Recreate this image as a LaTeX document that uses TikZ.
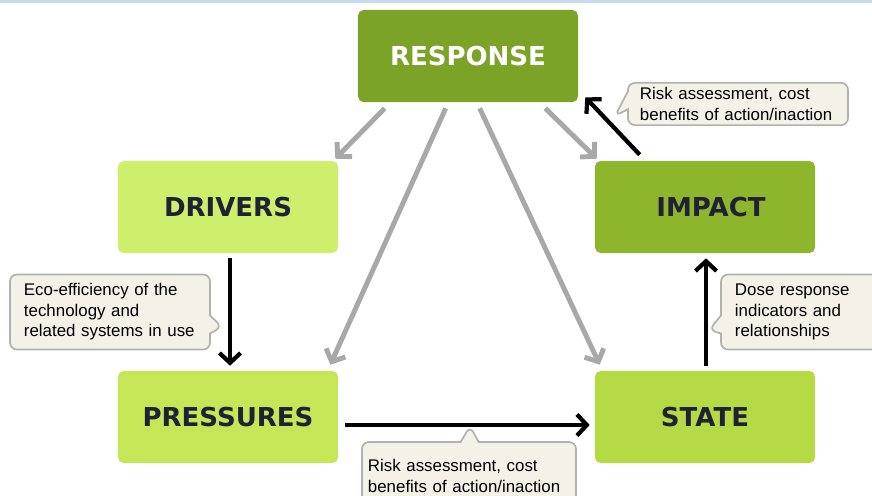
\documentclass[tikz,border=0pt]{standalone}
\usepackage{fontspec}
\setmainfont{Liberation Sans}
\newfontfamily\boxfont{DejaVu Sans}
\usetikzlibrary{shapes.callouts}
\usetikzlibrary{calc}
\usetikzlibrary{arrows.meta}

\definecolor{respgreen}{RGB}{123,163,40}
\definecolor{drvgreen}{RGB}{207,238,108}
\definecolor{impgreen}{RGB}{142,182,44}
\definecolor{presgreen}{RGB}{198,230,88}
\definecolor{stategreen}{RGB}{182,218,70}
\definecolor{navytext}{RGB}{30,34,52}
\definecolor{arrowgray}{RGB}{168,168,168}
\definecolor{notefill}{RGB}{244,242,232}
\definecolor{notegray}{RGB}{178,178,172}
\definecolor{topblue}{RGB}{196,220,238}

\begin{document}
\begin{tikzpicture}[x=0.025cm, y=-0.025cm, >={Straight Barb[length=7pt,width=15pt]}]
        \tikzstyle{every node}=[font=\fontsize{12}{14.6}\selectfont]
        \tikzstyle{stage}=[rectangle, rounded corners=4pt, minimum width=5.5cm, minimum height=2.3cm, text=navytext, font=\boxfont\bfseries\fontsize{18.5}{20}\selectfont]
        \tikzstyle{note}=[rectangle callout, rounded corners=5pt, draw=notegray, line width=1.2pt, fill=notefill, align=left, callout pointer width=0.45cm]
        \tikzstyle{grayarrow}=[->, draw=arrowgray, line width=3.5pt]
        \tikzstyle{blackarrow}=[->, draw=black, line width=3pt]
        \clip (0,0) rectangle (872,495);
        \fill[white] (0,0) rectangle (872,495);
        \fill[topblue] (0,0) rectangle (872,3);
        \node [stage, fill=respgreen, text=white] (resp) at (468,56) {RESPONSE};
        \node [stage, fill=drvgreen] (drv) at (228,207) {DRIVERS};
        \node [stage, fill=impgreen] (imp) at (705,207) {\hspace{0.3cm}IMPACT};
        \node [stage, fill=presgreen] (pres) at (228,417) {PRESSURES};
        \node [stage, fill=stategreen] (state) at (705,417) {STATE};
        \draw[grayarrow] ($(resp.south west)+(27,6)$) -- ($(drv.north east)+(-3,-2)$);
        \draw[grayarrow] ($(resp.south west)+(88,6)$) -- ($(pres.north east)+(-8,-6)$);
        \draw[grayarrow] ($(resp.south west)+(122,6)$) -- ($(state.north west)+(5,-6)$);
        \draw[grayarrow] ($(resp.south east)+(-33,6)$) -- ($(imp.north west)+(2,-2)$);
        \draw[blackarrow] ($(drv.south)+(2,5)$) -- ($(pres.north)+(2,-5)$);
        \draw[blackarrow] ($(pres.east)+(7,8)$) -- ($(state.west)+(-5,8)$);
        \draw[blackarrow] ($(state.north)+(1,-5)$) -- ($(imp.south)+(1,5)$);
        \draw[blackarrow] ($(imp.north west)+(45,-6)$) -- ($(resp.south east)+(7,-5)$);
        \coordinate (ecotip) at (222,327);
        \coordinate (topriskpt) at (615,116);
        \coordinate (dosetip) at (709,330);
        \coordinate (lowriskpt) at (470,426);
        \node [note, text width=4.3cm, inner xsep=0.35cm, minimum height=1.875cm, callout absolute pointer=(ecotip)] (eco) at (110,312) {Eco-efficiency of the\\technology and\\related systems in use};
        \node [note, text width=4.9cm, inner xsep=0.3cm, minimum height=1.05cm, callout absolute pointer=(topriskpt)] (toprisk) at (738,104) {Risk assessment, cost\\benefits of action/inaction};
        \node [note, text width=3.4cm, inner xsep=0.35cm, minimum height=1.875cm, callout absolute pointer=(dosetip)] (dose) at (803,312) {Dose response\\indicators and\\relationships};
        \node [note, text width=5.05cm, inner xsep=0.15cm, minimum height=1.7cm, callout absolute pointer=(lowriskpt)] (lowrisk) at (469,476) {Risk assessment, cost\\benefits of action/inaction};
      \end{tikzpicture}
\end{document}
